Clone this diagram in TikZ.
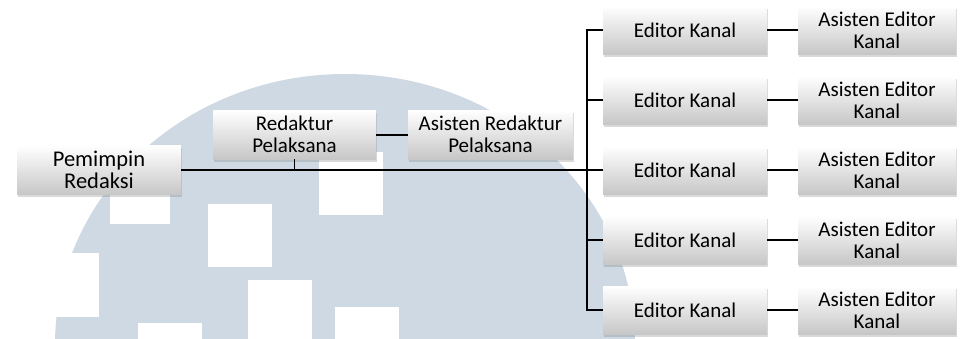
\documentclass[tikz,border=0pt]{standalone}
\usepackage{fontspec}
\setmainfont{Carlito}
\usetikzlibrary{shadows}
\definecolor{wm}{RGB}{206,217,227}
\begin{document}
\begin{tikzpicture}[x=1pt,y=-1pt,
  box/.style={draw=none, top color=white, bottom color=black!22,
    minimum width=164pt, minimum height=49pt, inner sep=0pt, align=center,
    font=\fontsize{21}{22}\selectfont,
    drop shadow={shadow xshift=1.2pt, shadow yshift=-2.5pt, opacity=0.3}},
  conn/.style={line width=2pt, black},
  stub/.style={line width=1.4pt, black}]
\useasboundingbox (0,0) rectangle (960,338);
% watermark
\begin{scope}
  \clip (0,0) rectangle (960,338);
  \fill[wm] (345,345) ellipse [x radius=290, y radius=271];
  \fill[white] (110,164) rectangle (170,224);
  \fill[white] (208,204) rectangle (272,267);
  \fill[white] (319,152) rectangle (383,215);
  \fill[white] (248,280) rectangle (312,345);
  \fill[white] (335,307) rectangle (399,345);
  \fill[white] (138,323) rectangle (202,345);
  \fill[white] (30,253) rectangle (99,317);
\end{scope}
% nodes
\node[box, font=\fontsize{22.5}{22}\selectfont] (P) at (99,170) {Pemimpin\\Redaksi};
\node[box, minimum width=163pt] (R) at (294.5,134.5) {Redaktur\\Pelaksana};
\node[box, minimum width=165pt] (AR) at (490.5,134.5) {Asisten Redaktur\\Pelaksana};
\foreach \i/\y in {1/30,2/100,3/170,4/240,5/310}{
  \node[box, minimum height=48pt] (E\i) at (685,\y) {Editor Kanal};
  \node[box, minimum width=158pt, minimum height=48pt] (A\i) at (877,\y) {Asisten Editor\\Kanal};
}
\coordinate (T) at (587,170);
% connectors
\draw[conn] (P.east) -- (E3.west);
\draw[stub] (R.south) -- (R.south |- P.east);
\draw[conn] (R.east) -- (AR.west);
\draw[conn] (E1.west) -| (T) |- (E5.west);
\draw[conn] (E2.west) -- (E2.west -| T);
\draw[conn] (E4.west) -- (E4.west -| T);
\foreach \i in {1,...,5}{
  \draw[conn] (E\i.east) -- (A\i.west);
}
\end{tikzpicture}
\end{document}
